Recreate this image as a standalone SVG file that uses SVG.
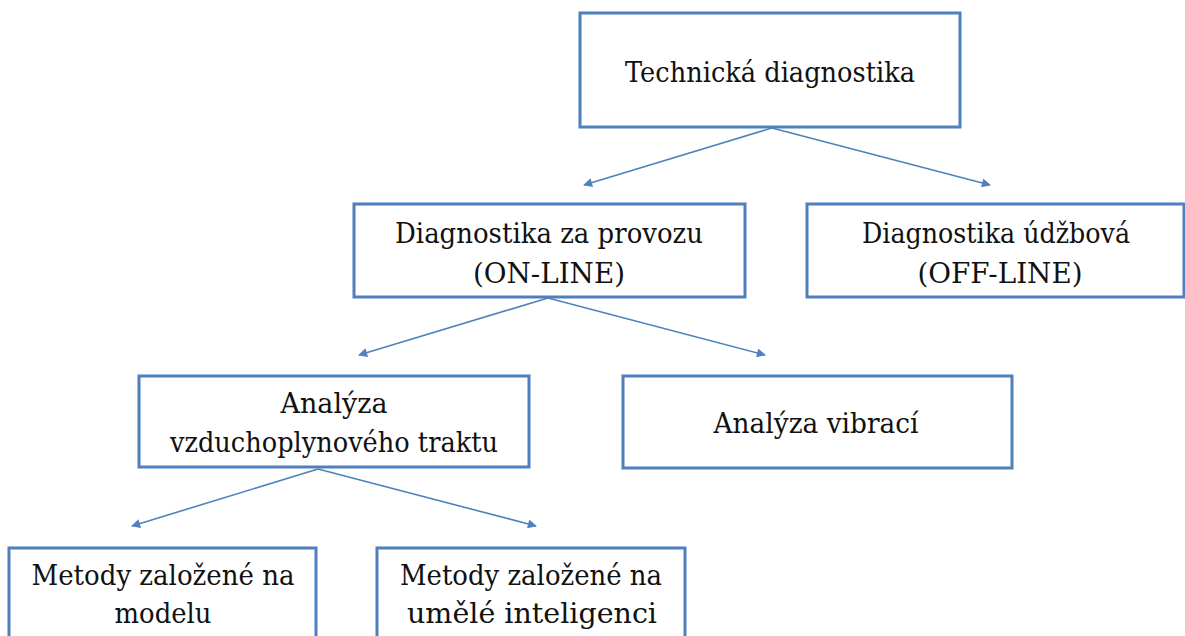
<svg xmlns="http://www.w3.org/2000/svg" width="1185" height="636" viewBox="0 0 1185 636">
  <style>
    .box { fill: #ffffff; stroke: #4f7fbd; stroke-width: 3; }
    .lbl { font-family: 'DejaVu Serif', 'Liberation Serif', serif; font-size: 28.5px; fill: #111111; text-anchor: middle; }
    .edge { stroke: #4f81bd; stroke-width: 1.6; fill: none; marker-end: url(#arrow); }
  </style>
  <defs>
    <marker id="arrow" viewBox="0 0 10 10" refX="9" refY="5" markerWidth="10" markerHeight="9" orient="auto" markerUnits="userSpaceOnUse">
      <path d="M0,0 L10,5 L0,10 z" fill="#4f81bd"/>
    </marker>
  </defs>
  <rect width="1185" height="636" fill="#ffffff"/>

  <g id="connectors">
    <line class="edge" x1="772" y1="128" x2="584" y2="185"/>
    <line class="edge" x1="772" y1="128" x2="990" y2="185"/>
    <line class="edge" x1="548" y1="298" x2="359" y2="355"/>
    <line class="edge" x1="548" y1="298" x2="765" y2="355"/>
    <line class="edge" x1="318" y1="469" x2="132" y2="526"/>
    <line class="edge" x1="318" y1="469" x2="536" y2="526"/>
  </g>

  <g id="technicka-diagnostika">
    <rect class="box" x="580" y="13" width="380" height="114"/>
    <text class="lbl" x="770" y="82" textLength="290" lengthAdjust="spacingAndGlyphs">Technická diagnostika</text>
  </g>

  <g id="diagnostika-za-provozu">
    <rect class="box" x="354" y="204" width="391" height="93"/>
    <text class="lbl" x="549" y="243" textLength="308" lengthAdjust="spacingAndGlyphs">Diagnostika za provozu</text>
    <text class="lbl" x="549" y="283" textLength="152" lengthAdjust="spacingAndGlyphs">(ON-LINE)</text>
  </g>

  <g id="diagnostika-udzbova">
    <rect class="box" x="807" y="204" width="377" height="93"/>
    <text class="lbl" x="996" y="243" textLength="268" lengthAdjust="spacingAndGlyphs">Diagnostika údžbová</text>
    <text class="lbl" x="1000" y="283" textLength="165" lengthAdjust="spacingAndGlyphs">(OFF-LINE)</text>
  </g>

  <g id="analyza-vzduchoplynoveho-traktu">
    <rect class="box" x="139" y="376" width="390" height="91"/>
    <text class="lbl" x="334" y="413" textLength="107" lengthAdjust="spacingAndGlyphs">Analýza</text>
    <text class="lbl" x="334" y="452" textLength="328" lengthAdjust="spacingAndGlyphs">vzduchoplynového traktu</text>
  </g>

  <g id="analyza-vibraci">
    <rect class="box" x="623" y="376" width="389" height="92"/>
    <text class="lbl" x="816" y="433" textLength="205" lengthAdjust="spacingAndGlyphs">Analýza vibrací</text>
  </g>

  <g id="metody-model">
    <rect class="box" x="9" y="548" width="307" height="100"/>
    <text class="lbl" x="163" y="585" textLength="263" lengthAdjust="spacingAndGlyphs">Metody založené na</text>
    <text class="lbl" x="163" y="623" textLength="97" lengthAdjust="spacingAndGlyphs">modelu</text>
  </g>

  <g id="metody-ai">
    <rect class="box" x="377" y="548" width="308" height="100"/>
    <text class="lbl" x="531" y="585" textLength="262" lengthAdjust="spacingAndGlyphs">Metody založené na</text>
    <text class="lbl" x="532" y="623" textLength="250" lengthAdjust="spacingAndGlyphs">umělé inteligenci</text>
  </g>
</svg>
